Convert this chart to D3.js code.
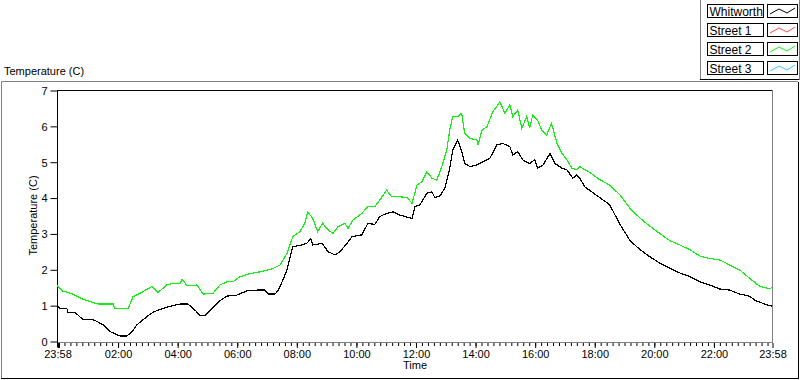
<!DOCTYPE html>
<html>
<head>
<meta charset="utf-8">
<script src="https://cdn.jsdelivr.net/npm/d3@7"></script>
<style>
  body { margin: 0; background: #fff; }
  svg { display: block; font-family: "Liberation Sans", Arial, sans-serif; }
  .tick text { font-size: 11px; fill: #000; }
</style>
</head>
<body>
<svg id="chart" width="800" height="380"></svg>
<script>
var width = 800, height = 380;

// series names + colours (legend)
var seriesNames = ["Whitworth", "Street 1", "Street 2", "Street 3"];
var seriesColors = ["#000000", "#ff4a4a", "#14ee14", "#3cc4ff"];

// Whitworth (black)
var whitworthTime = ["23:58","00:04","00:18","00:20","00:34","00:50","01:10","01:19","01:31","01:45","02:05","02:19","02:29","02:39","02:59","03:11","03:25","03:46","04:06","04:22","04:36","04:46","04:56","05:06","05:26","05:40","06:00","06:21","06:41","06:57","07:03","07:17","07:23","07:33","07:41","07:53","08:11","08:21","08:29","08:33","08:52","09:04","09:18","09:28","09:42","09:52","10:12","10:24","10:38","10:48","11:02","11:15","11:29","11:39","11:53","11:59","12:09","12:23","12:33","12:39","12:49","12:59","13:09","13:15","13:25","13:33","13:39","13:50","14:04","14:16","14:30","14:44","14:56","15:10","15:16","15:26","15:36","15:50","16:00","16:06","16:17","16:31","16:41","16:55","17:05","17:17","17:25","17:31","17:41","17:51","18:11","18:31","18:52","19:12","19:32","19:52","20:12","20:32","20:52","21:12","21:33","21:53","22:13","22:33","22:53","23:13","23:23","23:43","23:58"];
var whitworthTemp = [1.0,0.9,0.9,0.8,0.8,0.6,0.6,0.54,0.45,0.26,0.14,0.14,0.26,0.45,0.68,0.8,0.88,0.97,1.03,1.03,0.86,0.72,0.72,0.84,1.12,1.25,1.28,1.4,1.42,1.42,1.31,1.31,1.4,1.7,1.98,2.63,2.68,2.72,2.86,2.68,2.72,2.49,2.4,2.49,2.72,2.91,2.96,3.28,3.25,3.47,3.56,3.6,3.51,3.47,3.42,3.75,3.8,4.12,4.16,4.0,4.04,4.26,4.82,5.33,5.6,5.3,4.95,4.86,4.91,5.0,5.1,5.47,5.51,5.42,5.19,5.28,5.05,4.95,5.05,4.82,4.91,5.23,4.95,4.82,4.77,4.54,4.63,4.54,4.3,4.2,4.0,3.8,3.25,2.8,2.55,2.35,2.17,2.03,1.9,1.8,1.65,1.56,1.45,1.42,1.31,1.25,1.14,1.03,0.97];

// Street 2 (green)
var street2Time = ["23:58","00:08","00:26","00:46","01:04","01:21","01:51","01:55","02:21","02:31","02:45","03:09","03:21","03:39","03:52","04:06","04:10","04:20","04:40","04:52","05:12","05:26","05:40","05:52","06:06","06:27","06:47","07:13","07:27","07:41","07:53","08:07","08:17","08:23","08:33","08:43","08:53","09:04","09:14","09:24","09:38","09:44","09:54","10:12","10:24","10:38","10:48","11:02","11:12","11:29","11:43","11:53","12:03","12:13","12:23","12:33","12:43","12:53","13:03","13:09","13:15","13:25","13:33","13:39","13:50","14:04","14:06","14:14","14:24","14:36","14:50","15:00","15:10","15:16","15:26","15:34","15:44","15:50","15:56","16:06","16:14","16:24","16:34","16:45","16:55","17:05","17:15","17:25","17:31","17:51","18:11","18:31","18:52","19:12","19:32","19:52","20:12","20:32","20:52","21:12","21:33","21:53","22:13","22:33","22:53","23:17","23:33","23:54","23:58"];
var street2Temp = [1.56,1.4,1.33,1.19,1.1,1.03,1.03,0.9,0.9,1.23,1.33,1.52,1.35,1.56,1.61,1.61,1.72,1.54,1.56,1.31,1.33,1.56,1.65,1.65,1.79,1.88,1.93,2.02,2.12,2.44,2.91,3.05,3.28,3.6,3.42,3.05,3.28,3.1,3.0,3.19,3.28,3.14,3.37,3.56,3.75,3.75,3.93,4.21,4.02,4.02,4.0,3.84,4.35,4.44,4.72,4.54,4.49,4.86,5.33,5.88,6.26,6.26,6.35,5.79,5.65,5.6,5.47,5.88,5.98,6.4,6.67,6.35,6.58,6.26,6.44,5.93,6.26,5.93,6.3,6.16,5.88,5.74,6.07,5.51,5.23,5.05,4.82,4.77,4.86,4.7,4.5,4.35,4.07,3.7,3.43,3.2,3.0,2.8,2.68,2.55,2.37,2.3,2.26,2.12,1.98,1.7,1.53,1.45,1.5];

// Street 1 / Street 3 have no points on the graph
var street1Time = [], street1Temp = [];
var street3Time = [], street3Temp = [];

var yTicks = [0, 1, 2, 3, 4, 5, 6, 7];
var majorTickHours = [2, 4, 6, 8, 10, 12, 14, 16, 18, 20, 22];

// turn HH:MM list into dates, rolling over midnight
var parseT = d3.timeParse("%H:%M");
function toDates(times) {
  var day = 0, prev = null;
  return times.map(function(s) {
    var d = parseT(s);
    if (prev && d < prev) day++;
    prev = d;
    return d3.timeDay.offset(d, day);
  });
}
function makeSeries(times, temps) {
  var dates = toDates(times);
  return dates.map(function(d, i) { return { t: d, v: temps[i] }; });
}

var allSeries = [
  makeSeries(whitworthTime, whitworthTemp),
  makeSeries(street1Time, street1Temp),
  makeSeries(street2Time, street2Temp),
  makeSeries(street3Time, street3Temp)
];

var startT = parseT("23:58");
var endT = d3.timeDay.offset(startT, 1);

var plot = { left: 57, top: 90, right: 772, bottom: 341 };

var x = d3.scaleTime().domain([startT, endT]).range([plot.left, plot.right]);
var y = d3.scaleLinear().domain([0, 7]).range([plot.bottom, plot.top]);

var svg = d3.select("#chart");

// outer panel (3d style border)
svg.append("line").attr("x1", 1.5).attr("x2", 798).attr("y1", 81.5).attr("y2", 81.5).attr("stroke", "#808080");
svg.append("line").attr("x1", 1.5).attr("x2", 1.5).attr("y1", 81.5).attr("y2", 378).attr("stroke", "#808080");
svg.append("line").attr("x1", 1).attr("x2", 799).attr("y1", 378.5).attr("y2", 378.5).attr("stroke", "#000");
svg.append("line").attr("x1", 798.5).attr("x2", 798.5).attr("y1", 82).attr("y2", 379).attr("stroke", "#000");

// title top-left
svg.append("text").attr("x", 4).attr("y", 75).attr("font-size", 11).text("Temperature (C)");

// plot frame
svg.append("line").attr("x1", plot.left).attr("x2", plot.right + 0.5).attr("y1", plot.top + 0.5).attr("y2", plot.top + 0.5).attr("stroke", "#000");
svg.append("line").attr("x1", plot.right + 0.5).attr("x2", plot.right + 0.5).attr("y1", plot.top).attr("y2", plot.bottom + 1).attr("stroke", "#808080");
svg.append("line").attr("x1", plot.left).attr("x2", plot.right + 1).attr("y1", plot.bottom + 1.5).attr("y2", plot.bottom + 1.5).attr("stroke", "#808080");

// y axis
var yAxis = d3.axisLeft(y).tickValues(yTicks).tickSize(7).tickPadding(3).tickFormat(d3.format("d"));
var gy = svg.append("g").attr("transform", "translate(" + (plot.left + 0.5) + ",0.5)").call(yAxis);
gy.select(".domain").attr("stroke", "#000").attr("d", "M0," + (plot.top - 0.5) + "V" + (plot.bottom + 6));
gy.selectAll(".tick line").attr("stroke", "#000");
gy.selectAll(".tick text").attr("dy", "0.35em");

// x axis: minor ticks every 12 minutes, major every 2 hours + both ends
var minorTicks = d3.timeMinute.every(12).range(startT, endT).filter(function(d) { return d > startT; });
var majorTicks = [startT].concat(majorTickHours.map(function(h) {
  return d3.timeHour.offset(d3.timeDay.floor(startT), 24 + h);
})).concat([endT]);

var gxMinor = svg.append("g").attr("transform", "translate(0.5," + (plot.bottom + 1) + ")")
  .call(d3.axisBottom(x).tickValues(minorTicks).tickSize(4).tickFormat(""));
gxMinor.select(".domain").remove();
gxMinor.selectAll(".tick line").attr("stroke", "#000").attr("y1", 1);

var gx = svg.append("g").attr("transform", "translate(0.5," + (plot.bottom + 1) + ")")
  .call(d3.axisBottom(x).tickValues(majorTicks).tickSize(6).tickPadding(2).tickFormat(d3.timeFormat("%H:%M")));
gx.select(".domain").remove();
gx.selectAll(".tick line").attr("stroke", "#000").attr("y1", 1);
gx.selectAll(".tick").filter(function(d, i) { return i === 0; }).select("line").attr("stroke-width", 2).attr("transform", "translate(1,0)");

// axis titles
svg.append("text").attr("x", (plot.left + plot.right) / 2 + 0.5).attr("y", 369)
  .attr("text-anchor", "middle").attr("font-size", 11).text("Time");
svg.append("text").attr("transform", "translate(37," + ((plot.top + plot.bottom) / 2) + ") rotate(-90)")
  .attr("text-anchor", "middle").attr("font-size", 11).text("Temperature (C)");

// lines
var line = d3.line().x(function(d) { return x(d.t); }).y(function(d) { return y(d.v); });
var drawOrder = [3, 1, 2, 0];
svg.append("g").selectAll("path")
  .data(drawOrder)
  .enter()
  .append("path")
  .attr("fill", "none")
  .attr("stroke", function(i) { return seriesColors[i]; })
  .attr("stroke-width", 1.2)
  .attr("shape-rendering", "crispEdges")
  .attr("d", function(i) { return allSeries[i].length ? line(allSeries[i]) : null; });

// legend panel
var lg = svg.append("g");
lg.append("line").attr("x1", 700.5).attr("x2", 700.5).attr("y1", 0).attr("y2", 79).attr("stroke", "#808080");
lg.append("line").attr("x1", 700).attr("x2", 800).attr("y1", 79.5).attr("y2", 79.5).attr("stroke", "#000");
lg.append("line").attr("x1", 799.5).attr("x2", 799.5).attr("y1", 0).attr("y2", 80).attr("stroke", "#808080");

var rows = lg.selectAll("g.row")
  .data(seriesNames)
  .enter()
  .append("g")
  .attr("class", "row")
  .attr("transform", function(d, i) { return "translate(0," + (i * 19) + ")"; });

rows.append("rect").attr("x", 707.5).attr("y", 4.5).attr("width", 56).attr("height", 13)
  .attr("fill", "#fff").attr("stroke", "#000");
rows.append("text").attr("x", 709.5).attr("y", 16).attr("font-size", 12).text(function(d) { return d; });
rows.append("rect").attr("x", 767.5).attr("y", 4.5).attr("width", 30).attr("height", 13)
  .attr("fill", "#fff").attr("stroke", "#000");
rows.append("polyline")
  .attr("points", "770,14 779,9 787,13 795,8")
  .attr("fill", "none")
  .attr("stroke", function(d, i) { return seriesColors[i]; });
</script>
</body>
</html>
